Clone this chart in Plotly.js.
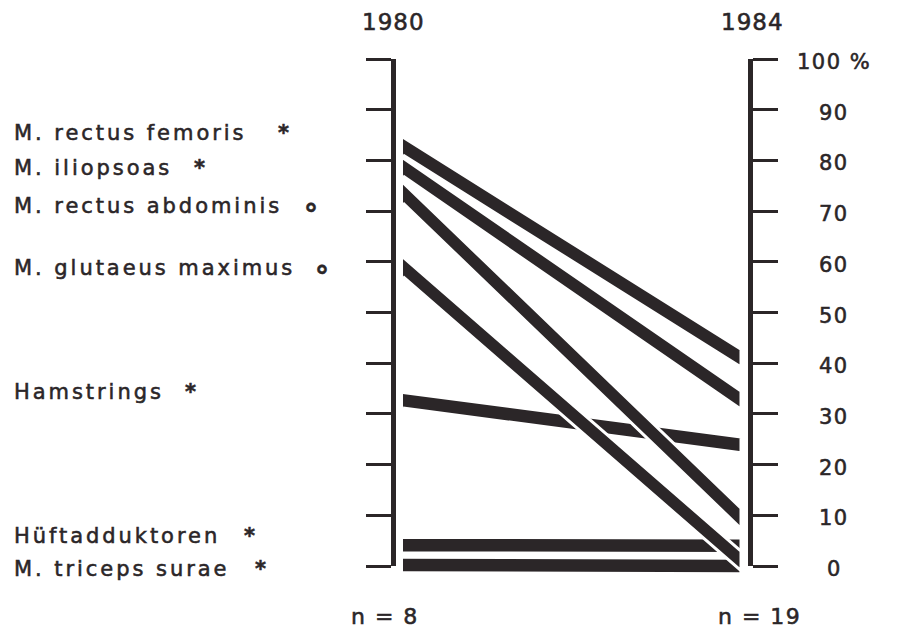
<!DOCTYPE html>
<html>
<head>
<meta charset="utf-8">
<script src="https://cdn.plot.ly/plotly-3.0.1.min.js"></script>
<style>
  html, body { margin: 0; padding: 0; background: #ffffff; }
  #chart { width: 902px; height: 631px; }
  #chart .annotation-text { stroke: #2b2628; stroke-width: 0.55px; }
</style>
</head>
<body>
<div id="chart"></div>
<script>
// ---------------- data ----------------
const years = [1980, 1984];
const sampleSizes = [8, 19];
const muscles = [
  "M. rectus femoris",
  "M. iliopsoas",
  "M. rectus abdominis",
  "M. glutaeus maximus",
  "Hamstrings",
  "Hüftadduktoren",
  "M. triceps surae"
];
const significance = ["*", "*", "°", "°", "*", "*", "*"];
const pct1980 = [82.8, 78.7, 73.6, 59.0, 32.7, 4.1, 0.2];
const pct1984 = [41.0, 32.7, 9.4, 1.0, 23.9, 4.0, 0.0];
const tickValues = [0, 10, 20, 30, 40, 50, 60, 70, 80, 90, 100];
const tickLabels = ["0", "10", "20", "30", "40", "50", "60", "70", "80", "90", "100 %"];

// ---------------- style / geometry ----------------
const INK = "#2b2628";
const FONT = "DejaVu Sans, sans-serif";
const W = 902, H = 631;
const ML = 396, MR = 154;           // plot area 396..748 px
const PLOT_W = W - ML - MR;
const Y0_PX = 566;                   // pixel of 0 %
const PX_PER_UNIT = 5.07;            // pixels per percentage point
const BAND_PX = 12.5;                // band thickness (perpendicular)
const BORDER = 3;                    // white outline width
const BAND_X0_PX = 403, BAND_X1_PX = 741;

const fx0 = (BAND_X0_PX - ML) / PLOT_W, fx1 = (BAND_X1_PX - ML) / PLOT_W;
const span = (years[1] - years[0]) / (fx1 - fx0);
const xMin = years[0] - fx0 * span, xMax = xMin + span;

const y3Range = [-(H - Y0_PX) / PX_PER_UNIT, Y0_PX / PX_PER_UNIT];
const axDomain = [(H - Y0_PX) / H, (H - (Y0_PX - 100 * PX_PER_UNIT)) / H];

const px2x = px => (px - ML) / PLOT_W;
const py2y = py => (H - py) / H;

// ---------------- traces ----------------
const drawOrder = [4, 5, 6, 3, 2, 1, 0];
const traces = drawOrder.map(i => {
  const v0 = pct1980[i], v1 = pct1984[i];
  const dyPx = (v0 - v1) * PX_PER_UNIT;
  const dxPx = BAND_X1_PX - BAND_X0_PX;
  const cosT = dxPx / Math.hypot(dxPx, dyPx);
  const h = (BAND_PX / 2 / cosT + BORDER / 2) / PX_PER_UNIT;
  return {
    type: "scatter",
    mode: "lines",
    x: [years[0], years[1], years[1], years[0]],
    y: [v0 + h, v1 + h, v1 - h, v0 - h],
    fill: "toself",
    fillcolor: INK,
    line: { color: "#ffffff", width: BORDER },
    xaxis: "x",
    yaxis: "y3",
    name: muscles[i],
    hoverinfo: "name"
  };
});
// empty (invisible) traces so that both percentage axes are drawn
traces.push({ type: "scatter", mode: "none", x: [years[0]], y: [pct1980[0]], xaxis: "x", yaxis: "y", hoverinfo: "skip" });
traces.push({ type: "scatter", mode: "none", x: [years[1]], y: [pct1984[0]], xaxis: "x", yaxis: "y2", hoverinfo: "skip" });

// ---------------- annotations ----------------
const labelCenterPx = [133, 168, 206, 268, 392, 536, 569];
const symbolCenterPx = [283, 199, 311, 322, 190, 249, 260];
const spaced = (t, s) => `<span style="letter-spacing:${s}px">${t}</span>`;

const annotations = [];
muscles.forEach((m, i) => {
  annotations.push({
    xref: "paper", yref: "paper", x: px2x(12), y: py2y(labelCenterPx[i]),
    xanchor: "left", yanchor: "middle", showarrow: false,
    text: spaced(m, 2.95), font: { family: FONT, size: 21, color: INK }
  });
  const isDeg = significance[i] === "°";
  annotations.push({
    xref: "paper", yref: "paper", x: px2x(symbolCenterPx[i]), y: py2y(labelCenterPx[i] + (isDeg ? 8 : 0)),
    xanchor: "center", yanchor: "middle", showarrow: false,
    text: significance[i], font: { family: FONT, size: isDeg ? 28 : 21, color: INK, weight: 700 }
  });
});
tickValues.forEach((v, i) => {
  annotations.push({
    xref: "paper", yref: "y", x: px2x(834), y: v, yshift: -3,
    xanchor: "center", yanchor: "middle", showarrow: false,
    text: spaced(tickLabels[i], 1.5), font: { family: FONT, size: 21, color: INK }
  });
});
const yearCenterPx = [393, 752];
years.forEach((yr, i) => {
  annotations.push({
    xref: "paper", yref: "paper", x: px2x(yearCenterPx[i]), y: py2y(22),
    xanchor: "center", yanchor: "middle", showarrow: false,
    text: spaced(String(yr), 1), font: { family: FONT, size: 23, color: INK }
  });
});
const nCenterPx = [385, 759];
sampleSizes.forEach((n, i) => {
  annotations.push({
    xref: "paper", yref: "paper", x: px2x(nCenterPx[i]), y: py2y(616),
    xanchor: "center", yanchor: "middle", showarrow: false,
    text: spaced("n = " + n, 1.5), font: { family: FONT, size: 22, color: INK }
  });
});

// ---------------- layout ----------------
const axisCommon = {
  domain: axDomain, range: [0, 100], anchor: "x",
  tickmode: "array", tickvals: tickValues,
  ticks: "outside", ticklen: 25, tickwidth: 3, tickcolor: INK,
  showline: true, linewidth: 5, linecolor: INK,
  showticklabels: false, showgrid: false, zeroline: false, fixedrange: true
};

const layout = {
  width: W, height: H,
  margin: { l: ML, r: MR, t: 0, b: 0, pad: 0 },
  paper_bgcolor: "#ffffff", plot_bgcolor: "rgba(0,0,0,0)",
  showlegend: false,
  xaxis: { range: [xMin, xMax], domain: [0, 1], visible: false, fixedrange: true, anchor: "y3" },
  yaxis: Object.assign({}, axisCommon, { side: "left" }),
  yaxis2: Object.assign({}, axisCommon, { side: "right", overlaying: "y" }),
  yaxis3: { domain: [0, 1], range: y3Range, visible: false, fixedrange: true, anchor: "x" },
  annotations: annotations
};

Plotly.newPlot("chart", traces, layout, { displayModeBar: false, staticPlot: true });
</script>
</body>
</html>
